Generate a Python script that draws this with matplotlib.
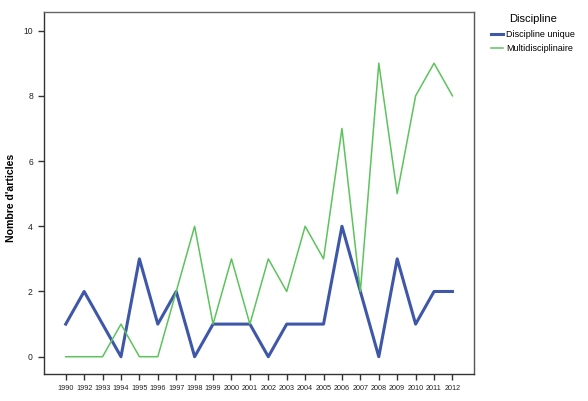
import matplotlib
matplotlib.use("Agg")
import matplotlib.pyplot as plt

years = ["1990", "1992", "1993", "1994", "1995", "1996", "1997", "1998", "1999", "2000", "2001",
         "2002", "2003", "2004", "2005", "2006", "2007", "2008", "2009", "2010", "2011", "2012"]
unique = [1, 2, 1, 0, 3, 1, 2, 0, 1, 1, 1, 0, 1, 1, 1, 4, 2, 0, 3, 1, 2, 2]
multi = [0, 0, 0, 1, 0, 0, 2, 4, 1, 3, 1, 3, 2, 4, 3, 7, 2, 9, 5, 8, 9, 8]
yticks = [0, 2, 4, 6, 8, 10]

blue = "#3F57A8"
green = "#5DC35D"

fig = plt.figure(figsize=(5.88, 4.01), dpi=100)
ax = fig.add_axes([44/588, 27/401, 430/588, 362/401])
x = list(range(len(years)))
l1, = ax.plot(x, unique, color=blue, lw=2.2, label="Discipline unique")
l2, = ax.plot(x, multi, color=green, lw=1.1, label="Multidisciplinaire")

ax.set_xlim(-1.18, len(years) - 1 + 1.17)
ax.set_ylim(-0.53, 10.57)
ax.set_xticks(x)
ax.set_xticklabels(years, fontsize=5.2, family="Liberation Sans", color="#222222")
ax.set_yticks(yticks)
ax.set_yticklabels([str(v) for v in yticks], fontsize=6.2, family="Liberation Sans", color="#222222")
ax.tick_params(axis="both", direction="out", length=4, width=1, color="#333333", pad=4)
for s in ax.spines.values():
    s.set_color("#333333")
    s.set_linewidth(1)
ax.spines["top"].set_color("#666666")
ax.spines["right"].set_color("#555555")

fig.text(11/588, 1 - 198/401, "Nombre d'articles", fontsize=7.6, fontweight="bold",
         family="Liberation Sans", rotation=90, ha="center", va="center")

leg = fig.legend(handles=[l1, l2], title="Discipline", loc="upper left",
                 bbox_to_anchor=(485/588, 1 - 8/401), frameon=False,
                 prop={"family": "Liberation Sans", "size": 6.5},
                 title_fontproperties={"family": "Liberation Sans", "size": 8},
                 handlelength=1.3, handletextpad=0.3, labelspacing=0.6, borderpad=0.2)

fig.savefig("out.png", dpi=100)
